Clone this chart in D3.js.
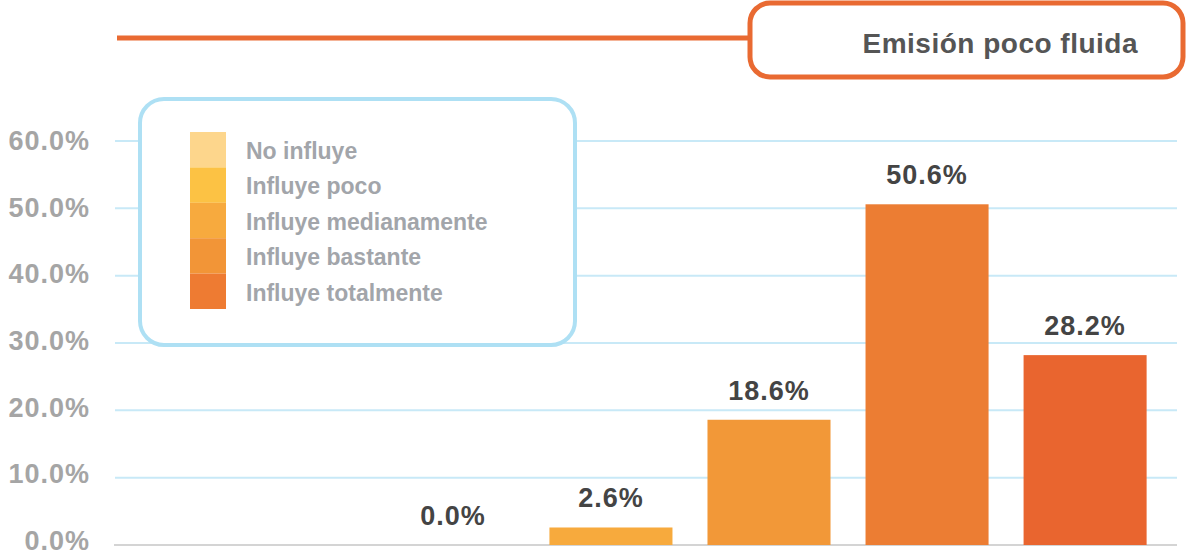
<!DOCTYPE html>
<head>
  <meta charset="utf-8">
  <title>Emisión poco fluida</title>
  <style>
    body { margin: 0; background: #fff; }
    text { font-family: "Liberation Sans", Arial, sans-serif; font-weight: bold; }
  </style>
</head>
<body>
  <div id="chart"></div>
  <script src="https://cdn.jsdelivr.net/npm/d3@7"></script>
  <script>
    // data
    var categories = ["No influye", "Influye poco", "Influye medianamente", "Influye bastante", "Influye totalmente"];
    var values = [0.0, 2.6, 18.6, 50.6, 28.2];
    var barColors = ["#fcc244", "#f7aa3d", "#f29838", "#ec7d33", "#e9652f"];
    var legendColors = ["#fdd68c", "#fcc244", "#f7aa3e", "#f29537", "#ee7b32"];
    var yTicks = [0, 10, 20, 30, 40, 50, 60];
    var title = "Emisión poco fluida";

    var width = 1188, height = 556;

    var svg = d3.select("#chart").append("svg")
        .attr("width", width)
        .attr("height", height);

    var y = d3.scaleLinear().domain([0, 60]).range([545, 141]);
    var x = d3.scaleBand().domain(categories)
        .range([374, 1164])
        .paddingInner(0.2215)
        .paddingOuter(0.11);

    // gridlines
    svg.append("g")
      .selectAll("line")
      .data(yTicks.filter(function(d) { return d > 0; }))
      .enter().append("line")
        .attr("x1", 115).attr("x2", 1177)
        .attr("y1", d => y(d)).attr("y2", d => y(d))
        .attr("stroke", "#c8e9f7")
        .attr("stroke-width", 2);

    // baseline
    svg.append("line")
        .attr("x1", 114).attr("x2", 1177)
        .attr("y1", y(0)).attr("y2", y(0))
        .attr("stroke", "#d4d4d4")
        .attr("stroke-width", 2);

    // y labels
    svg.append("g")
      .selectAll("text")
      .data(yTicks)
      .enter().append("text")
        .attr("x", 90)
        .attr("y", d => y(d) + 5 + d / 15)
        .attr("text-anchor", "end")
        .attr("fill", "#a5a5a5")
        .style("font-size", "27px")
        .style("letter-spacing", "1px")
        .text(d => d.toFixed(1) + "%");

    // bars
    svg.append("g")
      .selectAll("rect")
      .data(values)
      .enter().append("rect")
        .attr("x", (d, i) => x(categories[i]))
        .attr("y", d => y(d))
        .attr("width", x.bandwidth())
        .attr("height", d => y(0) - y(d))
        .attr("fill", (d, i) => barColors[i]);

    // value labels
    svg.append("g")
      .selectAll("text")
      .data(values)
      .enter().append("text")
        .attr("x", (d, i) => x(categories[i]) + x.bandwidth() / 2)
        .attr("y", d => y(d) - 20)
        .attr("text-anchor", "middle")
        .attr("fill", "#444")
        .style("font-size", "27px")
        .style("letter-spacing", "1px")
        .text(d => d.toFixed(1) + "%");

    // legend box
    svg.append("rect")
        .attr("x", 140).attr("y", 99)
        .attr("width", 435).attr("height", 246)
        .attr("rx", 24)
        .attr("fill", "#fff")
        .attr("stroke", "#aee0f4")
        .attr("stroke-width", 4);

    var legend = svg.append("g")
      .selectAll("g")
      .data(categories)
      .enter().append("g")
        .attr("transform", (d, i) => "translate(190," + (132 + i * 35.4) + ")");

    legend.append("rect")
        .attr("width", 36)
        .attr("height", 35.4)
        .attr("fill", (d, i) => legendColors[i]);

    legend.append("text")
        .attr("x", 56)
        .attr("y", 27)
        .attr("fill", "#a2a5aa")
        .style("font-size", "23px")
        .text(d => d);

    // title line + box
    svg.append("line")
        .attr("x1", 117).attr("x2", 750)
        .attr("y1", 38).attr("y2", 38)
        .attr("stroke", "#e96a32")
        .attr("stroke-width", 5);

    svg.append("rect")
        .attr("x", 750).attr("y", 3)
        .attr("width", 433).attr("height", 74)
        .attr("rx", 20)
        .attr("fill", "#fff")
        .attr("stroke", "#e96a32")
        .attr("stroke-width", 5);

    svg.append("text")
        .attr("x", 1138)
        .attr("y", 53)
        .attr("text-anchor", "end")
        .attr("fill", "#555")
        .style("font-size", "28px")
        .style("letter-spacing", "0.5px")
        .text(title);
  </script>
</body>
